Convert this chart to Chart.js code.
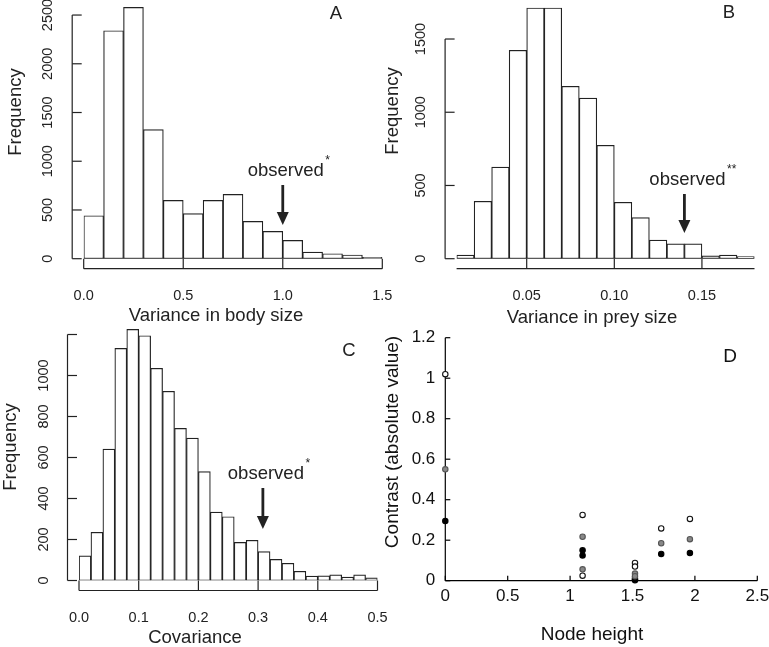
<!DOCTYPE html>
<html>
<head>
<meta charset="utf-8">
<script src="https://cdn.jsdelivr.net/npm/chart.js@4.4.1/dist/chart.umd.min.js"></script>
<style>
  html, body { margin: 0; padding: 0; background: #fff; }
  #wrap { position: relative; width: 769px; height: 647px; }
  #wrap canvas { position: absolute; left: 0; top: 0; }
</style>
</head>
<body>
<div id="wrap">
  <canvas id="panelA" width="769" height="647"></canvas>
  <canvas id="panelB" width="769" height="647"></canvas>
  <canvas id="panelC" width="769" height="647"></canvas>
  <canvas id="panelD" width="769" height="647"></canvas>
</div>
<script>
// --- Panel A: variance in body size ---
const bodyBreaks = [0, 0.1, 0.2, 0.3, 0.4, 0.5, 0.6, 0.7, 0.8, 0.9, 1.0, 1.1, 1.2, 1.3, 1.4, 1.5];
const bodyCounts = [441, 2339, 2579, 1324, 598, 462, 598, 660, 383, 280, 188, 68, 51, 38, 14];
const bodyYTicks = [0, 500, 1000, 1500, 2000, 2500];
const bodyXTicks = [0, 0.5, 1.0, 1.5];
const bodyXLabels = ["0.0", "0.5", "1.0", "1.5"];

// --- Panel B: variance in prey size ---
const preyBreaks = [0.01, 0.02, 0.03, 0.04, 0.05, 0.06, 0.07, 0.08, 0.09, 0.10, 0.11, 0.12, 0.13, 0.14, 0.15, 0.16, 0.17, 0.18];
const preyCounts = [25, 392, 626, 1423, 1712, 1712, 1177, 1097, 774, 385, 280, 127, 102, 102, 20, 25, 14];
const preyYTicks = [0, 500, 1000, 1500];
const preyXTicks = [0.05, 0.10, 0.15];
const preyXLabels = ["0.05", "0.10", "0.15"];

// --- Panel C: covariance ---
const covBreaks = [0, 0.02, 0.04, 0.06, 0.08, 0.10, 0.12, 0.14, 0.16, 0.18, 0.20, 0.22, 0.24,
                   0.26, 0.28, 0.30, 0.32, 0.34, 0.36, 0.38, 0.40, 0.42, 0.44, 0.46, 0.48, 0.50];
const covCounts = [120, 235, 641, 1132, 1225, 1194, 1035, 923, 742, 695, 531, 334, 311,
                   186, 196, 141, 103, 84, 45, 21, 23, 28, 17, 28, 13];
const covYTicks = [0, 200, 400, 600, 800, 1000, 1200];
const covYLabels = ["0", "200", "400", "600", "800", "1000", ""];
const covXTicks = [0, 0.1, 0.2, 0.3, 0.4, 0.5];
const covXLabels = ["0.0", "0.1", "0.2", "0.3", "0.4", "0.5"];

// --- Panel D: contrasts vs node height ---
const openHeight = [0, 1.1, 1.1, 1.52, 1.52, 1.73, 1.96];
const openContrast = [1.02, 0.325, 0.025, 0.088, 0.07, 0.258, 0.305];
const grayHeight = [0, 1.1, 1.1, 1.52, 1.52, 1.73, 1.96];
const grayContrast = [0.55, 0.217, 0.056, 0.035, 0.022, 0.185, 0.205];
const blackHeight = [0, 1.1, 1.1, 1.52, 1.52, 1.73, 1.96];
const blackContrast = [0.295, 0.15, 0.125, 0.008, 0.002, 0.132, 0.137];
const nodeXTicks = [0, 0.5, 1, 1.5, 2, 2.5];
const nodeYTicks = [0, 0.2, 0.4, 0.6, 0.8, 1, 1.2];

const INK = "#222";
const FONT = '"Liberation Sans", Arial, Helvetica, sans-serif';

function line(ctx, x1, y1, x2, y2) {
    ctx.beginPath();
    ctx.moveTo(x1, y1);
    ctx.lineTo(x2, y2);
    ctx.stroke();
}

function rotatedText(ctx, text, x, y) {
    ctx.save();
    ctx.translate(x, y);
    ctx.rotate(-Math.PI / 2);
    ctx.fillText(text, 0, 0);
    ctx.restore();
}

/**
 * R-style axes: inward ticks, y labels rotated, x axis line set below the baseline.
 */
function rPanel(p) {
    return {
        id: "rPanel",
        afterDatasetsDraw(chart) {
            const { ctx, scales: { x, y } } = chart;
            const base = y.getPixelForValue(0);
            const axisX = x.getPixelForValue(p.xMin) - 11.5;
            const lineY = base + 10;

            ctx.save();
            ctx.strokeStyle = INK;
            ctx.fillStyle = INK;
            ctx.lineWidth = 1.2;

            // y axis
            line(ctx, axisX, base, axisX, y.getPixelForValue(p.yTicks[p.yTicks.length - 1]));
            ctx.font = `14.5px ${FONT}`;
            ctx.textAlign = "center";
            ctx.textBaseline = "middle";
            p.yTicks.forEach((v, i) => {
                const py = y.getPixelForValue(v);
                line(ctx, axisX, py, axisX + 9.5, py);
                const label = p.yLabels ? p.yLabels[i] : String(v);
                rotatedText(ctx, label, axisX - 24, py);
            });

            // x axis
            line(ctx, x.getPixelForValue(p.xMin), lineY, x.getPixelForValue(p.xMax), lineY);
            p.xTicks.forEach((v, i) => {
                const px = x.getPixelForValue(v);
                line(ctx, px, lineY, px, base);
                ctx.fillText(p.xLabels[i], px, lineY + 27.5);
            });

            // titles
            ctx.font = `18.5px ${FONT}`;
            rotatedText(ctx, "Frequency", axisX - p.yTitleGap, p.yTitleY);
            ctx.fillText(p.xTitle, p.xTitlePos[0], p.xTitlePos[1]);
            ctx.fillText(p.letter, p.letterPos[0], p.letterPos[1]);

            // observed value arrow
            const ax = x.getPixelForValue(p.obs.x);
            ctx.lineWidth = 2.8;
            line(ctx, ax, p.obs.top, ax, p.obs.tip - 10);
            ctx.beginPath();
            ctx.moveTo(ax - 6, p.obs.tip - 13);
            ctx.lineTo(ax + 6, p.obs.tip - 13);
            ctx.lineTo(ax, p.obs.tip);
            ctx.closePath();
            ctx.fill();

            const tx = ax + 3;
            const ty = p.obs.top - 14;
            ctx.fillText("observed", tx, ty);
            const w = ctx.measureText("observed").width;
            ctx.font = `12px ${FONT}`;
            ctx.textAlign = "left";
            ctx.fillText(p.obs.stars, tx + w / 2 + 1.5, ty - 10);
            ctx.restore();
        }
    };
}

function histChart(id, breaks, counts, yMax, xStep, padding, panel) {
    const data = counts.map((c, i) => ({ x: (breaks[i] + breaks[i + 1]) / 2, y: c }));
    return new Chart(document.getElementById(id), {
        type: "bar",
        data: {
            datasets: [{
                data,
                backgroundColor: "#fff",
                borderColor: INK,
                borderWidth: 1.2,
                borderSkipped: false,
                barPercentage: 1,
                categoryPercentage: 1
            }]
        },
        options: {
            responsive: false,
            animation: false,
            layout: { padding },
            scales: {
                x: {
                    type: "linear", display: false, offset: false,
                    min: breaks[0], max: breaks[breaks.length - 1],
                    ticks: { stepSize: xStep }
                },
                y: { display: false, min: 0, max: yMax }
            },
            plugins: { legend: { display: false }, tooltip: { enabled: false } }
        },
        plugins: [rPanel(panel)]
    });
}

histChart("panelA", bodyBreaks, bodyCounts, 2600, 0.5,
    { left: 83.7, right: 386.7, top: 5.3, bottom: 388.3 },
    {
        xMin: 0, xMax: 1.5,
        yTicks: bodyYTicks, xTicks: bodyXTicks, xLabels: bodyXLabels,
        yTitleGap: 56, yTitleY: 112, xTitle: "Variance in body size", xTitlePos: [216, 316],
        letter: "A", letterPos: [336, 14],
        obs: { x: 1.0, top: 185, tip: 225, stars: "*" }
    });

histChart("panelB", preyBreaks, preyCounts, 1750, 0.05,
    { left: 456.6, right: 14.5, top: 2.4, bottom: 388.3 },
    {
        xMin: 0.01, xMax: 0.18,
        yTicks: preyYTicks, xTicks: preyXTicks, xLabels: preyXLabels,
        yTitleGap: 52.5, yTitleY: 111, xTitle: "Variance in prey size", xTitlePos: [592, 318],
        letter: "B", letterPos: [729, 13],
        obs: { x: 0.14, top: 194, tip: 233, stars: "**" }
    });

histChart("panelC", covBreaks, covCounts, 1250, 0.1,
    { left: 79, right: 391.5, top: 324.25, bottom: 66.5 },
    {
        xMin: 0, xMax: 0.5,
        yTicks: covYTicks, yLabels: covYLabels, xTicks: covXTicks, xLabels: covXLabels,
        yTitleGap: 57, yTitleY: 447, xTitle: "Covariance", xTitlePos: [195, 638],
        letter: "C", letterPos: [349, 351],
        obs: { x: 0.308, top: 488, tip: 529, stars: "*" }
    });

// Excel-style axes for the scatter panel
const excelAxes = {
    id: "excelAxes",
    beforeDatasetsDraw(chart) {
        const { ctx, scales: { x, y } } = chart;
        const x0 = x.getPixelForValue(0);
        const y0 = y.getPixelForValue(0);
        ctx.save();
        ctx.strokeStyle = "#000";
        ctx.fillStyle = "#111";
        ctx.lineWidth = 1.2;
        line(ctx, x0, y0, x0, y.getPixelForValue(1.2));
        line(ctx, x0, y0, x.getPixelForValue(2.5), y0);

        ctx.font = `17px ${FONT}`;
        ctx.textAlign = "right";
        ctx.textBaseline = "middle";
        nodeYTicks.forEach(v => {
            const py = y.getPixelForValue(v);
            line(ctx, x0, py, x0 + 5, py);
            ctx.fillText(String(v), x0 - 10, py);
        });
        ctx.textAlign = "center";
        nodeXTicks.forEach(v => {
            const px = x.getPixelForValue(v);
            line(ctx, px, y0, px, y0 - 5);
            ctx.fillText(String(v), px, y0 + 16);
        });

        ctx.font = `19px ${FONT}`;
        ctx.fillText("Node height", 592, 635);
        ctx.fillText("D", 730, 357);
        rotatedText(ctx, "Contrast (absolute value)", 393, 442);
        ctx.restore();
    }
};

const toPoints = (xs, ys) => xs.map((v, i) => ({ x: v, y: ys[i] }));

new Chart(document.getElementById("panelD"), {
    type: "scatter",
    data: {
        datasets: [
            { data: toPoints(openHeight, openContrast), backgroundColor: "#fff", borderColor: "#111" },
            { data: toPoints(grayHeight, grayContrast), backgroundColor: "#888", borderColor: "#555" },
            { data: toPoints(blackHeight, blackContrast), backgroundColor: "#000", borderColor: "#000" }
        ].map(ds => Object.assign(ds, { pointRadius: 2.7, borderWidth: 1.1, clip: false }))
    },
    options: {
        responsive: false,
        animation: false,
        layout: { padding: { left: 445.3, right: 11.7, top: 337.7, bottom: 66.3 } },
        scales: {
            x: { type: "linear", display: false, min: 0, max: 2.5 },
            y: { display: false, min: 0, max: 1.2 }
        },
        plugins: { legend: { display: false }, tooltip: { enabled: false } }
    },
    plugins: [excelAxes]
});
</script>
</body>
</html>
